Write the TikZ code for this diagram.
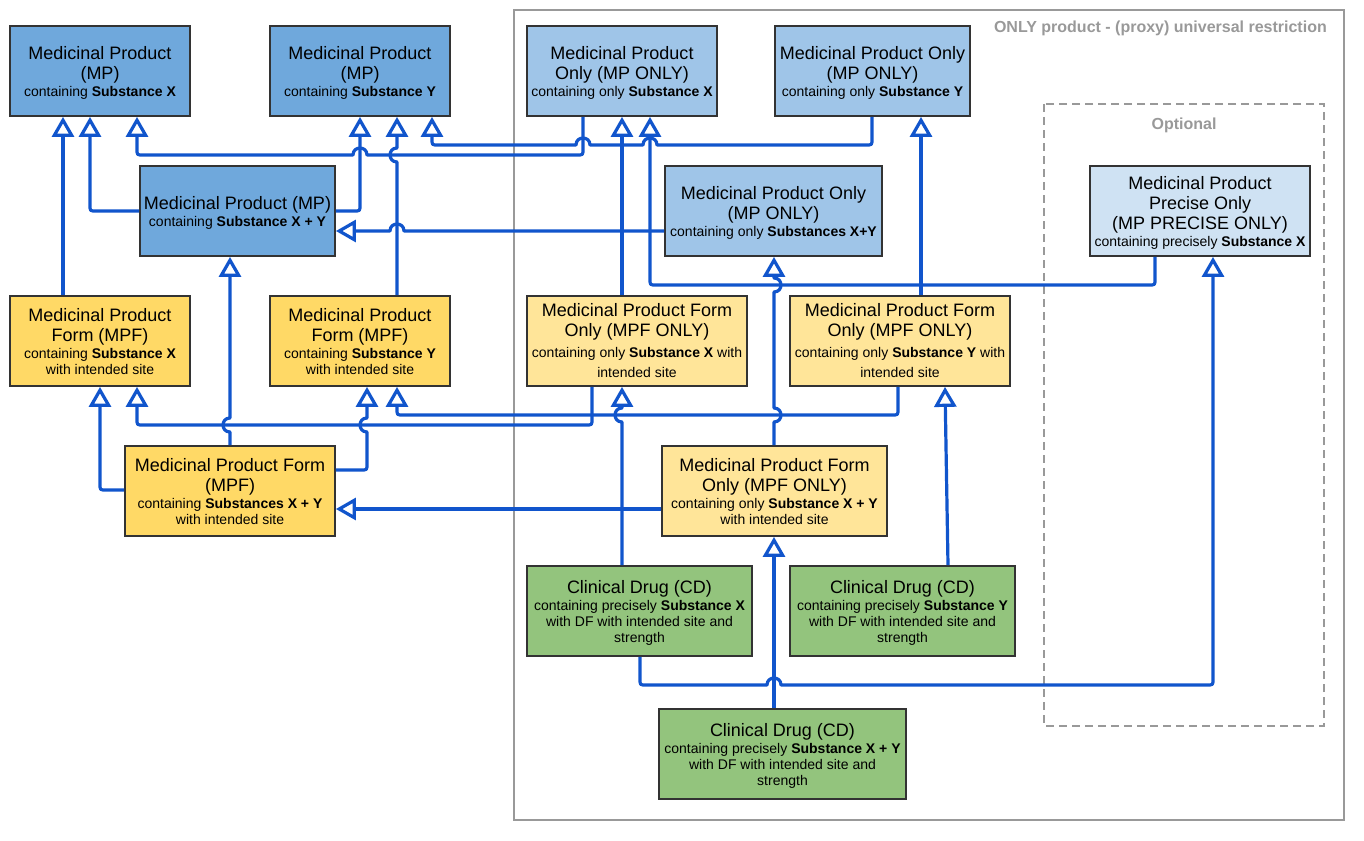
\documentclass[tikz,border=0pt]{standalone}
\usepackage{fontspec}
\setmainfont{Liberation Sans}
\usetikzlibrary{arrows.meta}
\definecolor{connc}{HTML}{1155CC}
\definecolor{bdrc}{HTML}{333333}
\definecolor{grayc}{HTML}{999999}
\definecolor{mpc}{HTML}{6FA8DC}
\definecolor{mpoc}{HTML}{9FC5E8}
\definecolor{mppc}{HTML}{CFE2F3}
\definecolor{mpfc}{HTML}{FFD966}
\definecolor{mpfoc}{HTML}{FFE599}
\definecolor{cdc}{HTML}{93C47D}
\newcommand\bt[2]{\makebox[0pt]{\parbox{320pt}{\centering\fontsize{18}{20}\selectfont\rule{0pt}{17pt}#1\par\vspace{1pt}\fontsize{14}{16}\selectfont #2\rule[-3.5pt]{0pt}{3.5pt}\par}}}
\newcommand\btw[2]{\makebox[0pt]{\parbox{320pt}{\centering\fontsize{18}{20}\selectfont\rule{0pt}{15pt}#1\par\vspace{1pt}\fontsize{14}{20}\selectfont #2\rule[-3.5pt]{0pt}{3.5pt}\par}}}
\tikzset{
  box/.style={draw=bdrc, line width=1.8pt, inner sep=0pt, minimum height=90pt},
  conn/.style={draw=connc, line width=3.2pt, line join=round, -{Triangle[open, length=20pt, width=22pt, line width=3.2pt, line join=miter]}},
  grp/.style={draw=grayc, line width=1.8pt},
  grplabel/.style={text=grayc, font=\fontsize{16}{19}\selectfont\bfseries, inner sep=0pt}
}
\begin{document}
\begin{tikzpicture}[x=1pt, y=-1pt]
\useasboundingbox (0,0) rectangle (1364,840);
% groups
\draw[grp] (514,10) rectangle (1344,820);
\draw[grp, dash pattern=on 8pt off 5pt] (1044,104) rectangle (1324,726);
\node[grplabel, anchor=base east] (onlylbl) at (1327,32.5) {ONLY product - (proxy) universal restriction};
\node[grplabel, anchor=base] (optlbl) at (1184,129) {Optional};
% nodes
\node[box, fill=mpc, minimum width=180pt] (mpx) at (100,71) {\bt{Medicinal Product\\(MP)}{containing \textbf{Substance X}}};
\node[box, fill=mpc, minimum width=180pt] (mpy) at (360,71) {\bt{Medicinal Product\\(MP)}{containing \textbf{Substance Y}}};
\node[box, fill=mpc, minimum width=195pt] (mpxy) at (237.5,211) {\bt{Medicinal Product (MP)}{containing \textbf{Substance X + Y}}};
\node[box, fill=mpoc, minimum width=190pt] (mpox) at (622,71) {\bt{Medicinal Product\\Only (MP ONLY)}{containing only \textbf{Substance X}}};
\node[box, fill=mpoc, minimum width=195pt] (mpoy) at (872.5,71) {\bt{Medicinal Product Only\\(MP ONLY)}{containing only \textbf{Substance Y}}};
\node[box, fill=mpoc, minimum width=217pt] (mpoxy) at (773.5,211) {\bt{Medicinal Product Only\\(MP ONLY)}{containing only \textbf{Substances X+Y}}};
\node[box, fill=mppc, minimum width=220pt] (mppo) at (1200,211) {\bt{Medicinal Product\\Precise Only\\(MP PRECISE ONLY)}{containing precisely \textbf{Substance X}}};
\node[box, fill=mpfc, minimum width=180pt] (mpfx) at (100,341) {\bt{Medicinal Product\\Form (MPF)}{containing \textbf{Substance X}\\with intended site}};
\node[box, fill=mpfc, minimum width=180pt] (mpfy) at (360,341) {\bt{Medicinal Product\\Form (MPF)}{containing \textbf{Substance Y}\\with intended site}};
\node[box, fill=mpfc, minimum width=210pt] (mpfxy) at (230,491) {\bt{Medicinal Product Form\\(MPF)}{containing \textbf{Substances X + Y}\\with intended site}};
\node[box, fill=mpfoc, minimum width=220pt] (mpfox) at (637,341) {\btw{Medicinal Product Form\\Only (MPF ONLY)}{containing only \textbf{Substance X} with\\intended site}};
\node[box, fill=mpfoc, minimum width=220pt] (mpfoy) at (900,341) {\btw{Medicinal Product Form\\Only (MPF ONLY)}{containing only \textbf{Substance Y} with\\intended site}};
\node[box, fill=mpfoc, minimum width=225pt] (mpfoxy) at (774.5,491) {\bt{Medicinal Product Form\\Only (MPF ONLY)}{containing only \textbf{Substance X + Y}\\with intended site}};
\node[box, fill=cdc, minimum width=225pt] (cdx) at (639.5,611) {\bt{Clinical Drug (CD)}{containing precisely \textbf{Substance X}\\with DF with intended site and\\strength}};
\node[box, fill=cdc, minimum width=225pt] (cdy) at (902.5,611) {\bt{Clinical Drug (CD)}{containing precisely \textbf{Substance Y}\\with DF with intended site and\\strength}};
\node[box, fill=cdc, minimum width=247pt] (cdxy) at (782.5,754) {\bt{Clinical Drug (CD)}{containing precisely \textbf{Substance X + Y}\\with DF with intended site and\\strength}};
% connectors
\draw[conn] (63,0 |- mpfx.north) -- (63,0 |- mpx.south);
\draw[conn] (mpxy.west) -- (96,211) .. controls (90,211) .. (90,205) -- (90,0 |- mpx.south);
\draw[conn] (mpxy.east) -- (354,211) .. controls (360,211) .. (360,205) -- (360,0 |- mpy.south);
\draw[conn] (583,0 |- mpox.south) -- (583,149) .. controls (583,155) .. (577,155) -- (367,155) .. controls (367,145.67) and (353,145.67) .. (353,155) -- (143,155) .. controls (137,155) .. (137,149) -- (137,0 |- mpx.south);
\draw[conn] (872,0 |- mpoy.south) -- (872,139) .. controls (872,145) .. (866,145) -- (657,145) .. controls (657,135.67) and (643,135.67) .. (643,145) -- (590,145) .. controls (590,135.67) and (576,135.67) .. (576,145) -- (438,145) .. controls (432,145) .. (432,139) -- (432,0 |- mpy.south);
\draw[conn] (397,0 |- mpfy.north) -- (397,162) .. controls (387.67,162) and (387.67,148) .. (397,148) -- (397,0 |- mpy.south);
\draw[conn] (mpoxy.west |- 0,231) -- (404,231) .. controls (404,221.67) and (390,221.67) .. (390,231) -- (mpxy.east |- 0,231);
\draw[conn] (622,0 |- mpfox.north) -- (622,0 |- mpox.south);
\draw[conn] (1155,0 |- mppo.south) -- (1155,279) .. controls (1155,285) .. (1149,285) -- (656,285) .. controls (650,285) .. (650,279) -- (650,0 |- mpox.south);
\draw[conn] (921,0 |- mpfoy.north) -- (921,0 |- mpoy.south);
\draw[conn] (774,0 |- mpfoxy.north) -- (774,422) .. controls (783.33,422) and (783.33,408) .. (774,408) -- (774,292) .. controls (783.33,292) and (783.33,278) .. (774,278) -- (774,0 |- mpoxy.south);
\draw[conn] (592,0 |- mpfox.south) -- (592,419) .. controls (592,425) .. (586,425) -- (143,425) .. controls (137,425) .. (137,419) -- (137,0 |- mpfx.south);
\draw[conn] (898,0 |- mpfoy.south) -- (898,409) .. controls (898,415) .. (892,415) -- (403,415) .. controls (397,415) .. (397,409) -- (397,0 |- mpfy.south);
\draw[conn] (230,0 |- mpfxy.north) -- (230,432) .. controls (220.67,432) and (220.67,418) .. (230,418) -- (230,0 |- mpxy.south);
\draw[conn] (mpfxy.west |- 0,490) -- (106,490) .. controls (100,490) .. (100,484) -- (100,0 |- mpfx.south);
\draw[conn] (mpfxy.east |- 0,470) -- (361,470) .. controls (367,470) .. (367,464) -- (367,432) .. controls (357.67,432) and (357.67,418) .. (367,418) -- (367,0 |- mpfy.south);
\draw[conn] (mpfoxy.west |- 0,509) -- (mpfxy.east |- 0,509);
\draw[conn] (622,0 |- cdx.north) -- (622,422) .. controls (612.67,422) and (612.67,408) .. (622,408) -- (622,0 |- mpfox.south);
\draw[conn] (640,0 |- cdx.south) -- (640,679) .. controls (640,685) .. (646,685) -- (767,685) .. controls (767,675.67) and (781,675.67) .. (781,685) -- (1207,685) .. controls (1213,685) .. (1213,679) -- (1213,0 |- mppo.south);
\draw[conn] (948,0 |- cdy.north) -- (945,0 |- mpfoy.south);
\draw[conn] (774,0 |- cdxy.north) -- (774,0 |- mpfoxy.south);
\end{tikzpicture}
\end{document}
